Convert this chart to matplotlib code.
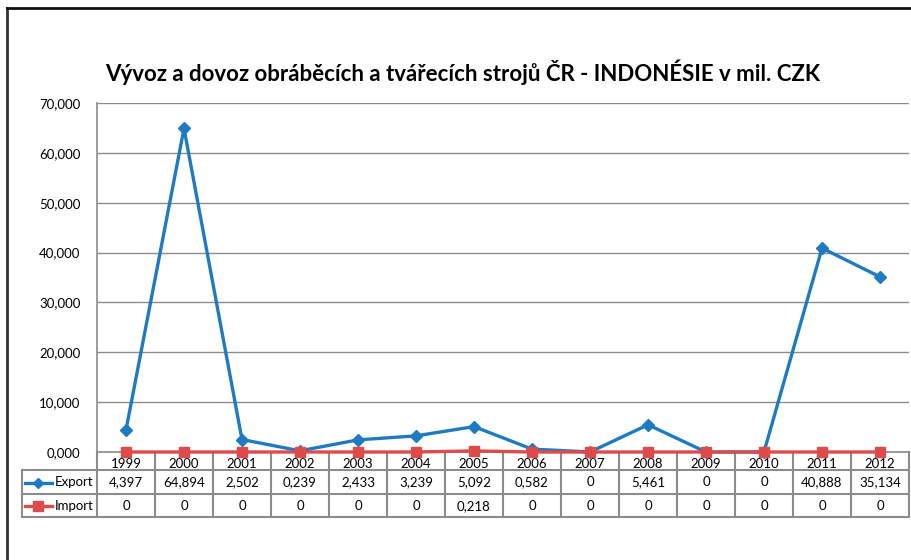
import numpy as np
import matplotlib.pyplot as plt
from matplotlib.lines import Line2D

plt.rcParams['font.family'] = ['Lato', 'DejaVu Sans']

years = ['1999', '2000', '2001', '2002', '2003', '2004', '2005',
         '2006', '2007', '2008', '2009', '2010', '2011', '2012']
export = [4.397, 64.894, 2.502, 0.239, 2.433, 3.239, 5.092,
          0.582, 0, 5.461, 0, 0, 40.888, 35.134]
imports = [0, 0, 0, 0, 0, 0, 0.218, 0, 0, 0, 0, 0, 0, 0]
title = "Vývoz a dovoz obráběcích a tvářecích strojů ČR - INDONÉSIE v mil. CZK"

blue = '#1f7bc1'
red = '#dd4b4b'
grid_c = '#8c8c8c'
W, H = 912, 560


def fmt(v):
    if v == 0:
        return '0'
    return f"{v:.3f}".replace('.', ',')


fig = plt.figure(figsize=(W / 100, H / 100), dpi=100)
# plot area in pixels
L, R, T, B = 97, 909, 103, 452
ax = fig.add_axes([L / W, (H - B) / H, (R - L) / W, (B - T) / H])

x = np.arange(len(years))
ax.plot(x, export, color=blue, lw=2.4, marker='D', ms=6, zorder=3, clip_on=False)
ax.plot(x, imports, color=red, lw=2.4, marker='s', ms=7.5, zorder=3, clip_on=False)

ax.set_xlim(-0.5, len(years) - 0.5)
ax.set_ylim(0, 70)
ax.set_yticks(np.arange(0, 71, 10))
ax.set_yticklabels([fmt(v) if v else '0,000' for v in np.arange(0, 71, 10)], fontsize=9.5)
ax.tick_params(axis='y', length=0, pad=12)
ax.set_xticks([])
ax.grid(axis='y', color=grid_c, lw=1)
ax.set_axisbelow(True)
for s in ['top', 'right']:
    ax.spines[s].set_visible(False)
ax.spines['left'].set_color(grid_c)
ax.spines['bottom'].set_color(grid_c)
ax.spines['left'].set_linewidth(1.2)
ax.spines['bottom'].set_linewidth(1.2)

# data table under the plot
tr = ax.get_xaxis_transform()
def yf(py):
    return (B - py) / (B - T)

rows = [452, 470, 494, 517]
leg_left = -0.5 - (L - 22) / ((R - L) / len(years))
tbl = dict(color=grid_c, lw=1.5, transform=tr, clip_on=False)
for r in rows[1:]:
    ax.add_line(Line2D([leg_left, len(years) - 0.5], [yf(r), yf(r)], **tbl))
for i in range(len(years) + 1):
    ax.add_line(Line2D([i - 0.5, i - 0.5], [yf(452), yf(517)], **tbl))
ax.add_line(Line2D([leg_left, leg_left], [yf(470), yf(517)], **tbl))

for i, yr in enumerate(years):
    ax.text(i, yf(464.5), yr, transform=tr, ha='center', va='center', fontsize=9.5, zorder=1)
    ax.text(i, yf(482.5), fmt(export[i]), transform=tr, ha='center', va='center', fontsize=9.5)
    ax.text(i, yf(506), fmt(imports[i]), transform=tr, ha='center', va='center', fontsize=9.5)

# legend keys in the table
for name, col, mk, ms, ypix in [('Export', blue, 'D', 5.5, 482.5), ('Import', red, 's', 7, 506)]:
    fy = (H - ypix) / H
    fig.add_artist(Line2D([25 / W, 52 / W], [fy, fy], color=col, lw=2.4))
    fig.add_artist(Line2D([38.5 / W], [fy], color=col, marker=mk, ms=ms, lw=0))
    fig.text(55 / W, fy, name, ha='left', va='center', fontsize=9.5)

# title
fig.text(463 / W, (H - 72) / H, title, ha='center', va='center',
         fontsize=16, fontweight='bold')

# outer chart border (partially visible)
fig.add_artist(Line2D([7 / W, 7 / W], [0, (H - 8) / H], color='#333333', lw=2))
fig.add_artist(Line2D([7 / W, 1], [(H - 8) / H, (H - 8) / H], color='#111111', lw=2))

fig.savefig('out.png', dpi=100)
